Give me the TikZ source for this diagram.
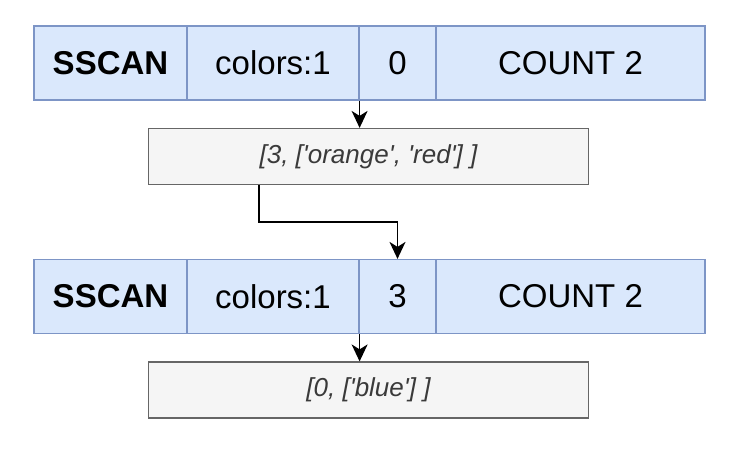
\documentclass[tikz,border=0pt]{standalone}
\usepackage{fontspec}
\setmainfont{Liberation Sans}
\newfontfamily\resfont{Liberation Sans}[Ligatures=TeXOff]
\usetikzlibrary{arrows.meta}
\definecolor{cellfill}{HTML}{DAE8FC}
\definecolor{celldraw}{HTML}{7D95C6}
\definecolor{resfill}{HTML}{F5F5F5}
\definecolor{resdraw}{HTML}{666666}
\definecolor{restext}{HTML}{3A3A3A}
\tikzset{
  cell/.style={draw=celldraw, fill=cellfill, line width=1.2pt, inner sep=0pt, minimum height=74pt, font=\fontsize{33}{36}\selectfont, text=black},
  res/.style={draw=resdraw, fill=resfill, line width=1.2pt, inner sep=0pt, minimum width=440pt, minimum height=56pt, font=\resfont\fontsize{26}{29}\selectfont\itshape, text=restext},
  link/.style={line width=1.6pt, -{Stealth[length=17pt,width=16pt,inset=5pt]}},
}
\begin{document}
\begin{tikzpicture}[x=1pt,y=-1pt]
\useasboundingbox (0,0) rectangle (749,450);
% row 1
\node[cell, minimum width=153pt, font=\fontsize{33}{36}\selectfont\bfseries] (a1) at (110.5,63) {SSCAN};
\node[cell, minimum width=172pt] (a2) at (273,63) {colors:1};
\node[cell, minimum width=77pt] (a3) at (397.5,63) {0};
\node[cell, minimum width=269pt] (a4) at (570.5,63) {COUNT 2};
% result 1
\node[res] (b1) at (368.5,156.5) {[3, ['orange', 'red'] ]};
% row 2
\node[cell, minimum width=153pt, font=\fontsize{33}{36}\selectfont\bfseries] (c1) at (110.5,296.5) {SSCAN};
\node[cell, minimum width=172pt] (c2) at (273,296.5) {colors:1};
\node[cell, minimum width=77pt] (c3) at (397.5,296.5) {3};
\node[cell, minimum width=269pt] (c4) at (570.5,296.5) {COUNT 2};
% result 2
\node[res] (d1) at (368.5,390) {[0, ['blue'] ]};
% connectors
\draw[link] (a2.south east) -- (a2.south east |- b1.north);
\coordinate (k) at (259,222);
\draw[link] (k |- b1.south) -- (k) -- (k -| c3.north) -- (c3.north);
\draw[link] (c2.south east) -- (c2.south east |- d1.north);
\end{tikzpicture}
\end{document}
